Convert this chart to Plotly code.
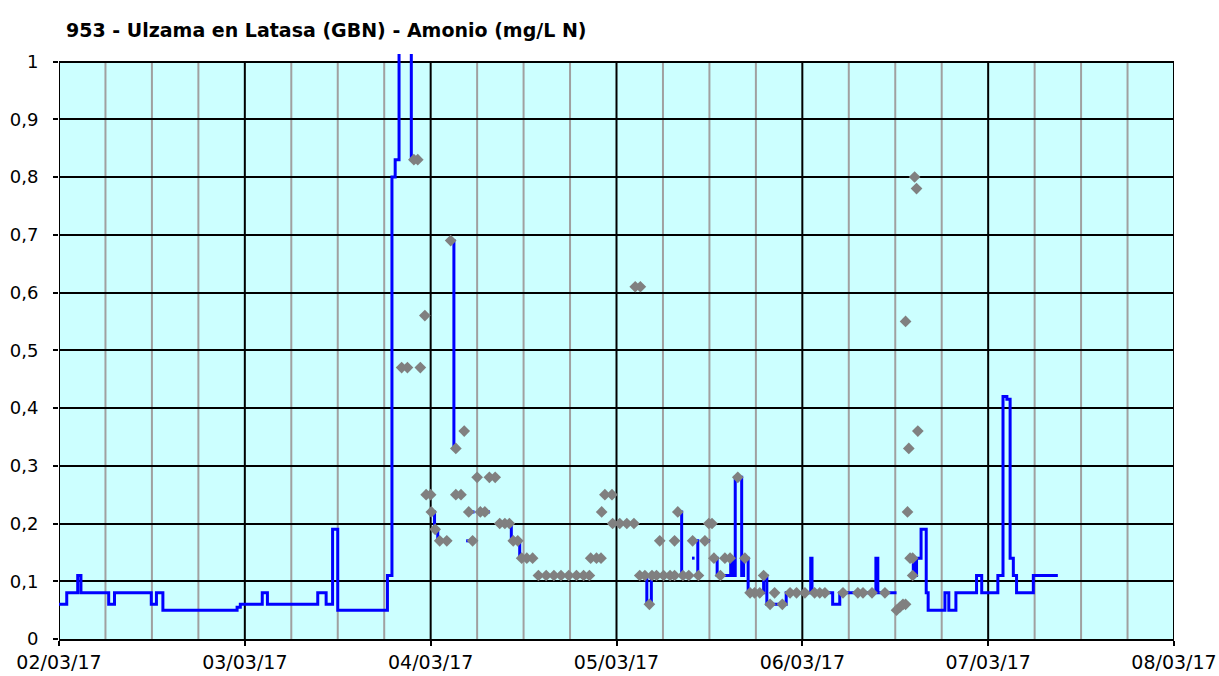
import plotly.graph_objects as go
import pandas as pd

title_text = "953 - Ulzama en Latasa (GBN) - Amonio (mg/L N)"

# Continuous sensor series (blue step line); None = gap
blue_time = [
    "2017-03-02 00:00", "2017-03-02 01:00", "2017-03-02 02:25", "2017-03-02 02:50",
    "2017-03-02 06:25", "2017-03-02 07:10", "2017-03-02 11:55", "2017-03-02 12:35",
    "2017-03-02 13:25", "2017-03-02 23:00", "2017-03-02 23:25", "2017-03-03 02:15",
    "2017-03-03 02:55", "2017-03-03 09:25", "2017-03-03 10:30", "2017-03-03 11:20",
    "2017-03-03 12:00", "2017-03-03 18:25", "2017-03-03 19:00", "2017-03-03 19:25",
    "2017-03-03 19:55", "2017-03-03 21:30", "2017-03-03 21:50", "2017-03-03 22:00",
    "2017-03-04 00:05", "2017-03-04 00:30", "2017-03-04 00:55", "2017-03-04 02:10", "2017-03-04 02:20",
    "2017-03-04 02:35", "2017-03-04 03:00", "2017-03-04 03:15", "2017-03-04 03:20",
    "2017-03-04 04:35", "2017-03-04 05:55", "2017-03-04 06:00",
    "2017-03-04 05:15", "2017-03-04 05:40", "2017-03-04 05:45",
    "2017-03-04 06:55", "2017-03-04 07:40", "2017-03-04 07:45",
    "2017-03-04 08:45", "2017-03-04 10:25", "2017-03-04 11:30", "2017-03-04 12:45", "2017-03-04 12:50",
    "2017-03-05 03:45", "2017-03-05 03:55", "2017-03-05 04:30", "2017-03-05 04:40", "2017-03-05 04:45",
    "2017-03-05 07:55", "2017-03-05 08:25", "2017-03-05 09:00", "2017-03-05 09:05",
    "2017-03-05 09:45", "2017-03-05 10:05", "2017-03-05 10:05",
    "2017-03-05 10:05", "2017-03-05 10:30", "2017-03-05 11:10", "2017-03-05 11:15",
    "2017-03-05 11:40", "2017-03-05 12:05", "2017-03-05 12:10",
    "2017-03-05 12:35", "2017-03-05 13:00", "2017-03-05 14:20", "2017-03-05 14:45",
    "2017-03-05 15:05", "2017-03-05 15:20", "2017-03-05 16:10", "2017-03-05 16:25",
    "2017-03-05 17:00", "2017-03-05 19:00", "2017-03-05 19:25", "2017-03-05 21:55",
    "2017-03-06 01:05", "2017-03-06 01:15", "2017-03-06 03:55", "2017-03-06 04:50",
    "2017-03-06 09:30", "2017-03-06 09:45", "2017-03-06 12:10", "2017-03-06 12:15",
    "2017-03-06 14:05", "2017-03-06 14:20", "2017-03-06 14:30", "2017-03-06 14:45",
    "2017-03-06 15:20", "2017-03-06 16:00", "2017-03-06 16:15", "2017-03-06 18:25",
    "2017-03-06 18:55", "2017-03-06 19:50", "2017-03-06 22:30", "2017-03-06 23:10",
    "2017-03-07 01:15", "2017-03-07 01:55", "2017-03-07 02:25", "2017-03-07 02:50",
    "2017-03-07 03:15", "2017-03-07 03:40", "2017-03-07 05:50", "2017-03-07 09:00",
]
blue_value = [
    0.06, 0.08, 0.11, 0.08,
    0.06, 0.08, 0.06, 0.08,
    0.05, 0.055, 0.06, 0.08,
    0.06, 0.08, 0.06, 0.19,
    0.05, 0.11, 0.80, 0.83,
    1.20, 0.83, 0.83, None,
    0.22, 0.19, 0.17, 0.17, None,
    0.69, 0.33, 0.33, None,
    0.17, 0.17, None,
    0.22, 0.22, None,
    0.22, 0.22, None,
    0.20, 0.17, 0.14, 0.14, None,
    0.11, 0.06, 0.11, 0.11, None,
    0.22, 0.11, 0.11, None,
    0.14, 0.14, None,
    0.17, 0.11, 0.11, None,
    0.17, 0.17, None,
    0.14, 0.11, 0.11, 0.14,
    0.11, 0.28, 0.11, 0.14,
    0.08, 0.11, 0.06, 0.08,
    0.14, 0.08, 0.06, 0.08,
    0.14, 0.08, 0.08, None,
    0.11, 0.14, 0.11, 0.14,
    0.19, 0.08, 0.05, 0.08,
    0.05, 0.08, 0.11, 0.08,
    0.11, 0.42, 0.415, 0.14,
    0.11, 0.08, 0.11, 0.11,
]

# Flagged values (grey diamonds)
gray_time = [
    "2017-03-03 20:15", "2017-03-03 21:00", "2017-03-03 21:50", "2017-03-03 22:20",
    "2017-03-03 22:40", "2017-03-03 23:15", "2017-03-03 23:25", "2017-03-04 00:00",
    "2017-03-04 00:05", "2017-03-04 00:35", "2017-03-04 01:10", "2017-03-04 02:05",
    "2017-03-04 02:35", "2017-03-04 03:15", "2017-03-04 03:15", "2017-03-04 03:55",
    "2017-03-04 04:20", "2017-03-04 04:55", "2017-03-04 05:25", "2017-03-04 06:00",
    "2017-03-04 06:25", "2017-03-04 07:00", "2017-03-04 07:35", "2017-03-04 08:20",
    "2017-03-04 08:55", "2017-03-04 09:35", "2017-03-04 10:10", "2017-03-04 10:40",
    "2017-03-04 11:15", "2017-03-04 11:45", "2017-03-04 12:25", "2017-03-04 13:10",
    "2017-03-04 13:55", "2017-03-04 14:55", "2017-03-04 15:55", "2017-03-04 16:50",
    "2017-03-04 17:50", "2017-03-04 18:50", "2017-03-04 19:45", "2017-03-04 20:30",
    "2017-03-04 20:40", "2017-03-04 21:25", "2017-03-04 22:00", "2017-03-04 22:05",
    "2017-03-04 22:30", "2017-03-04 23:25", "2017-03-04 23:30", "2017-03-05 00:25",
    "2017-03-05 01:20", "2017-03-05 02:15", "2017-03-05 02:25", "2017-03-05 03:05",
    "2017-03-05 03:00", "2017-03-05 03:40", "2017-03-05 04:15", "2017-03-05 04:35",
    "2017-03-05 05:10", "2017-03-05 05:35", "2017-03-05 06:05", "2017-03-05 06:55",
    "2017-03-05 07:30", "2017-03-05 07:30", "2017-03-05 07:55", "2017-03-05 08:35",
    "2017-03-05 09:20", "2017-03-05 09:50", "2017-03-05 10:35", "2017-03-05 11:25",
    "2017-03-05 11:55", "2017-03-05 12:20", "2017-03-05 12:35", "2017-03-05 13:25",
    "2017-03-05 14:00", "2017-03-05 14:40", "2017-03-05 15:40", "2017-03-05 16:35",
    "2017-03-05 17:15", "2017-03-05 17:50", "2017-03-05 18:30", "2017-03-05 19:00",
    "2017-03-05 19:50", "2017-03-05 20:25", "2017-03-05 21:25", "2017-03-05 22:25",
    "2017-03-05 23:15", "2017-03-06 00:20", "2017-03-06 01:35", "2017-03-06 02:15",
    "2017-03-06 02:55", "2017-03-06 05:15", "2017-03-06 07:10", "2017-03-06 07:50",
    "2017-03-06 09:00", "2017-03-06 10:40", "2017-03-06 12:10", "2017-03-06 12:35",
    "2017-03-06 13:00", "2017-03-06 13:20", "2017-03-06 13:20", "2017-03-06 13:35",
    "2017-03-06 13:45", "2017-03-06 13:55", "2017-03-06 14:15", "2017-03-06 14:15",
    "2017-03-06 14:30", "2017-03-06 14:45", "2017-03-06 14:55",
]
gray_value = [
    0.47, 0.47, 0.83, 0.83,
    0.47, 0.56, 0.25, 0.25,
    0.22, 0.19, 0.17, 0.17,
    0.69, 0.33, 0.25, 0.25,
    0.36, 0.22, 0.17, 0.28,
    0.22, 0.22, 0.28, 0.28,
    0.20, 0.20, 0.20, 0.17,
    0.17, 0.14, 0.14, 0.14,
    0.11, 0.11, 0.11, 0.11,
    0.11, 0.11, 0.11, 0.11,
    0.14, 0.14, 0.14, 0.22,
    0.25, 0.25, 0.20, 0.20,
    0.20, 0.20, 0.61, 0.61,
    0.11, 0.11, 0.06, 0.11,
    0.11, 0.17, 0.11, 0.11,
    0.11, 0.17, 0.22, 0.11,
    0.11, 0.17, 0.11, 0.17,
    0.20, 0.20, 0.14, 0.11,
    0.14, 0.14, 0.28, 0.14,
    0.08, 0.08, 0.08, 0.11,
    0.06, 0.08, 0.06, 0.08,
    0.08, 0.08, 0.08, 0.08,
    0.08, 0.08, 0.08, 0.08,
    0.08, 0.08, 0.05, 0.055,
    0.06, 0.06, 0.55, 0.22,
    0.33, 0.14, 0.14, 0.11,
    0.80, 0.78, 0.36,
]

x_tick_vals = ["2017-03-02", "2017-03-03", "2017-03-04", "2017-03-05",
               "2017-03-06", "2017-03-07", "2017-03-08"]
x_tick_text = ["02/03/17", "03/03/17", "04/03/17", "05/03/17",
               "06/03/17", "07/03/17", "08/03/17"]
y_tick_vals = [0, 0.1, 0.2, 0.3, 0.4, 0.5, 0.6, 0.7, 0.8, 0.9, 1.0]
y_tick_text = ["0", "0,1", "0,2", "0,3", "0,4", "0,5", "0,6", "0,7", "0,8", "0,9", "1"]

FONT = "DejaVu Sans"
x_start = pd.Timestamp(x_tick_vals[0])
x_end = pd.Timestamp(x_tick_vals[-1])

fig = go.Figure()
fig.add_trace(go.Scatter(
    x=pd.to_datetime(blue_time), y=blue_value, mode="lines",
    line=dict(color="#0000FF", width=3, shape="hv"),
    connectgaps=False, hoverinfo="skip", showlegend=False,
))
fig.add_trace(go.Scatter(
    x=pd.to_datetime(gray_time), y=gray_value, mode="markers",
    marker=dict(symbol="diamond", size=9, color="#808080", line=dict(width=0)),
    hoverinfo="skip", showlegend=False,
))

shapes = [dict(type="rect", xref="x", yref="y", x0=x_start, x1=x_end, y0=0, y1=1,
               fillcolor="#CCFFFF", line=dict(width=0), layer="below")]
t = x_start
minor = []
major = []
while t <= x_end:
    if t.hour == 0:
        major.append(t)
    else:
        minor.append(t)
    t = t + pd.Timedelta(hours=6)
for t in minor:
    shapes.append(dict(type="line", xref="x", yref="y", x0=t, x1=t, y0=0, y1=1,
                       line=dict(color="#A0A0A0", width=2), layer="below"))
for t in major:
    shapes.append(dict(type="line", xref="x", yref="y", x0=t, x1=t, y0=0, y1=1,
                       line=dict(color="#000000", width=2), layer="below"))

fig.update_layout(
    width=1219, height=676,
    margin=dict(l=59, r=45, t=54, b=37, pad=0, autoexpand=False),
    paper_bgcolor="white", plot_bgcolor="white",
    shapes=shapes,
    title=dict(text="<b>" + title_text + "</b>", x=66 / 1219, xanchor="left",
               xref="container", y=1 - 30 / 676, yanchor="middle", yref="container",
               font=dict(family=FONT, size=19, color="#000000")),
    xaxis=dict(type="date", range=[x_start, x_end], showgrid=False, zeroline=False,
               automargin=False,
               tickmode="array", tickvals=x_tick_vals, ticktext=x_tick_text,
               ticks="outside", ticklen=5, tickwidth=2, tickcolor="black",
               showline=True, linecolor="black", linewidth=2,
               tickfont=dict(family=FONT, size=19, color="#000000")),
    yaxis=dict(range=[0, 1.013], showgrid=True, gridcolor="black", gridwidth=2,
               zeroline=False, showline=False, automargin=False,
               tickmode="array", tickvals=y_tick_vals, ticktext=y_tick_text,
               ticks="outside", ticklen=5, tickwidth=2, tickcolor="black",
               ticklabelstandoff=11,
               tickfont=dict(family=FONT, size=18, color="#000000")),
)

fig.write_html("out.html", config={"displayModeBar": False},
               post_script="document.body.style.margin='0';")
